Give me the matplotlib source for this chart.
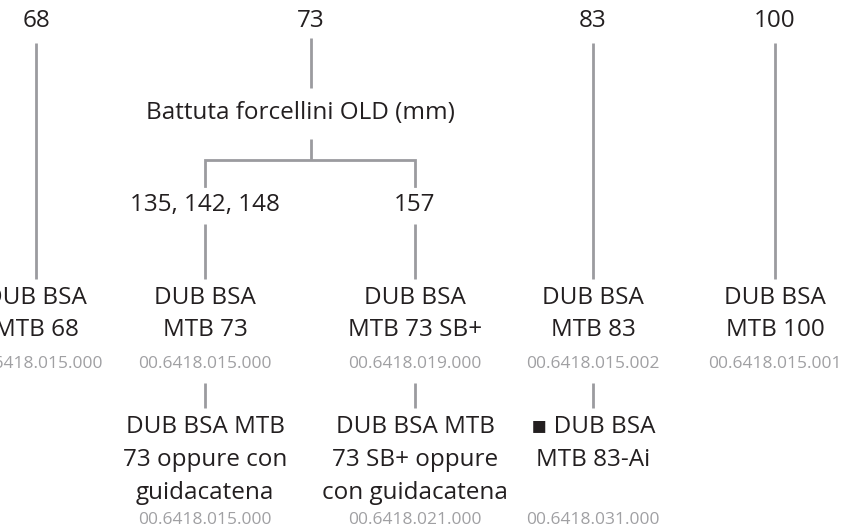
import matplotlib.pyplot as plt

plt.rcParams['font.family'] = ['Open Sans', 'DejaVu Sans']

# passo scatola (mm)
scatole = ['68', '73', '83', '100']
# battuta forcellini per la scatola 73
battuta_titolo = 'Battuta forcellini OLD (mm)'
battute = ['135, 142, 148', '157']

# prodotti principali e codici
prodotti = ['DUB BSA\nMTB 68', 'DUB BSA\nMTB 73', 'DUB BSA\nMTB 73 SB+',
            'DUB BSA\nMTB 83', 'DUB BSA\nMTB 100']
codici = ['00.6418.015.000', '00.6418.015.000', '00.6418.019.000',
          '00.6418.015.002', '00.6418.015.001']

# varianti (sotto i prodotti 73, 73 SB+, 83)
varianti = ['DUB BSA MTB\n73 oppure con\nguidacatena',
            'DUB BSA MTB\n73 SB+ oppure\ncon guidacatena',
            '\u25aa DUB BSA\nMTB 83-Ai']
codici_var = ['00.6418.015.000', '00.6418.021.000', '00.6418.031.000']

# layout (pixel)
x_scat = [36, 311, 593, 775]
x_batt = [205, 415]
x_prod = [36, 205, 415, 593, 775]
x_var = [205, 415, 593]

TXT = '#231f20'
GRIGIO = '#a0a0a3'
LINEA = '#9b9b9f'
FS = 17.5
FS_COD = 12.5
LW = 2
LS = 1.5

fig = plt.figure(figsize=(8.63, 5.30), dpi=100)
ax = fig.add_axes([0, 0, 1, 1])
ax.set_xlim(0, 863)
ax.set_ylim(530, 0)
ax.axis('off')


def vline(x, y0, y1):
    ax.plot([x, x], [y0, y1], color=LINEA, lw=LW, solid_capstyle='butt')


# livello 1: scatole
for x, s in zip(x_scat, scatole):
    ax.text(x, 21, s, ha='center', va='center', fontsize=FS, color=TXT)

# linee lunghe 68, 83, 100
for x in [x_scat[0], x_scat[2], x_scat[3]]:
    vline(x, 43, 279)

# ramo 73
vline(x_scat[1], 38, 88)
ax.text(300, 113, battuta_titolo, ha='center', va='center', fontsize=FS, color=TXT)
vline(x_scat[1], 139, 160)
ax.plot([x_batt[0], x_batt[0], x_batt[1], x_batt[1]], [186, 160, 160, 186],
        color=LINEA, lw=LW, solid_joinstyle='miter')
for x, b in zip(x_batt, battute):
    ax.text(x, 205, b, ha='center', va='center', fontsize=FS, color=TXT)
    vline(x, 224, 279)

# prodotti
for x, p, c in zip(x_prod, prodotti, codici):
    ax.text(x, 314, p, ha='center', va='center', fontsize=FS, color=TXT,
            linespacing=LS)
    ax.text(x, 364, c, ha='center', va='center', fontsize=FS_COD, color=GRIGIO)

# varianti
for x, v, c in zip(x_var, varianti, codici_var):
    vline(x, 383, 408)
    ax.text(x, 415, v, ha='center', va='top', fontsize=FS, color=TXT,
            linespacing=LS)
    ax.text(x, 520, c, ha='center', va='center', fontsize=FS_COD, color=GRIGIO)

fig.savefig('out.png', dpi=100)
